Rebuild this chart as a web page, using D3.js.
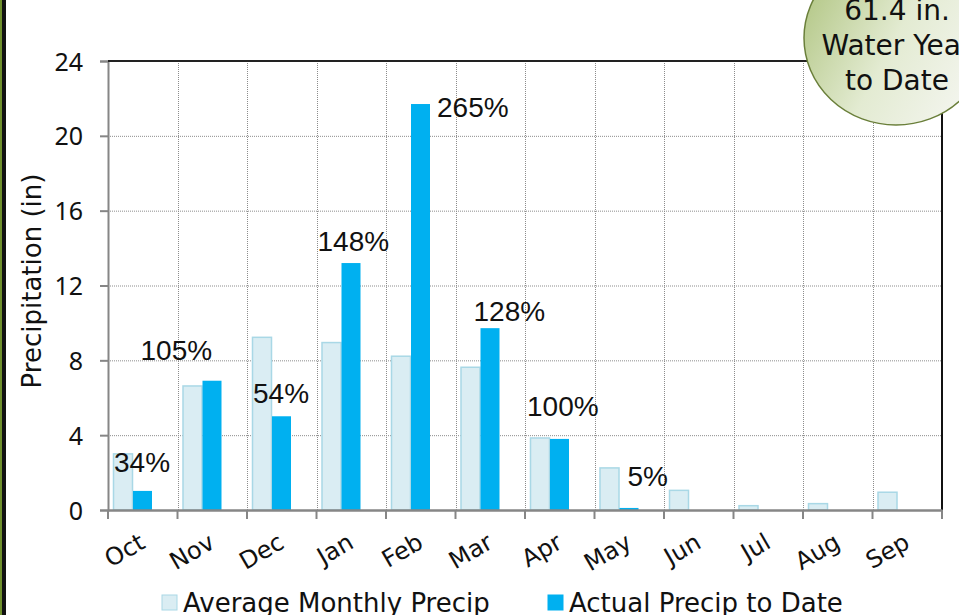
<!DOCTYPE html>
<html lang="en">
<head>
<meta charset="UTF-8">
<script src="https://d3js.org/d3.v7.min.js"></script>
<style>
  body { margin: 0; background: #fff; }
  svg { display: block; font-family: "DejaVu Sans", sans-serif; }
</style>
</head>
<body>
<div id="plot"></div>
<script>
// data
const months = ["Oct", "Nov", "Dec", "Jan", "Feb", "Mar", "Apr", "May", "Jun", "Jul", "Aug", "Sep"];
const avgPrecip = [3.0, 6.63, 9.23, 8.95, 8.22, 7.63, 3.85, 2.25, 1.05, 0.23, 0.34, 0.95];
const actualPrecip = [1.02, 6.91, 5.01, 13.2, 21.7, 9.72, 3.80, 0.11, null, null, null, null];
const pctLabels = ["34%", "105%", "54%", "148%", "265%", "128%", "100%", "5%", null, null, null, null];
const yTicks = [0, 4, 8, 12, 16, 20, 24];
const seriesNames = ["Average Monthly Precip", "Actual Precip to Date"];

// hand nudges for the percent labels (from band start / actual bar top)
const labelDx = [6, -37, 6, 1, 51, 18, 2, 33];
const labelDy = [-19, -21, -13, -12, 13, -7, -23, -22];

const width = 959, height = 615;
const m = {left: 108, right: 942, top: 61, bottom: 510};
const avgFill = "#daedf3", avgStroke = "#a9d8e6", actFill = "#00b0f0";

const svg = d3.select("#plot").append("svg")
    .attr("width", width)
    .attr("height", height);

// left frame strip
svg.append("rect").attr("x", 0).attr("y", 0).attr("width", 2).attr("height", height).attr("fill", "#6e8f2c");
svg.append("rect").attr("x", 2).attr("y", 0).attr("width", 4).attr("height", height).attr("fill", "#111");

const x = d3.scaleBand().domain(months).range([m.left, m.right]).padding(0);
const xs = d3.scaleBand().domain(["avg", "act"]).range([5, 45]).padding(0);
const y = d3.scaleLinear().domain([0, 24]).range([m.bottom, m.top]);

// grid
const grid = svg.append("g");
grid.selectAll(".hgrid")
  .data(yTicks.filter(d => d > 0 && d < 24))
  .join("line")
    .attr("x1", m.left).attr("x2", m.right)
    .attr("y1", d => y(d) + 0.5).attr("y2", d => y(d) + 0.5)
    .attr("stroke", "#8c8c8c").attr("stroke-dasharray", "1,1");
grid.selectAll(".vgrid")
  .data(months.slice(1))
  .join("line")
    .attr("x1", d => Math.round(x(d)) + 0.5).attr("x2", d => Math.round(x(d)) + 0.5)
    .attr("y1", m.top).attr("y2", m.bottom)
    .attr("stroke", "#8c8c8c").attr("stroke-dasharray", "1,1");

// y axis
svg.append("g")
    .attr("transform", `translate(${m.left},0)`)
    .call(d3.axisLeft(y).tickValues(yTicks).tickSize(8).tickPadding(17))
    .call(g => g.select(".domain").attr("stroke", "#868686").attr("stroke-width", 2))
    .call(g => g.selectAll(".tick line").attr("stroke", "#868686").attr("stroke-width", 2))
    .call(g => g.selectAll(".tick text")
        .attr("font-family", "'Noto Sans', sans-serif")
        .attr("fill", "#111").attr("font-size", 25).attr("dy", "0.36em"));

// top and right border
svg.append("line").attr("x1", m.left).attr("x2", m.right).attr("y1", m.top).attr("y2", m.top)
    .attr("stroke", "#222").attr("stroke-width", 2);
svg.append("line").attr("x1", m.right).attr("x2", m.right).attr("y1", m.top).attr("y2", m.bottom)
    .attr("stroke", "#111").attr("stroke-width", 2);

// bars
const groups = svg.append("g").selectAll("g")
  .data(months)
  .join("g")
    .attr("transform", d => `translate(${x(d)},0)`);

groups.append("rect")
    .attr("x", xs("avg") + 0.5)
    .attr("width", xs.bandwidth() - 1)
    .attr("y", (d, i) => y(avgPrecip[i]))
    .attr("height", (d, i) => y(0) - y(avgPrecip[i]))
    .attr("fill", avgFill)
    .attr("stroke", avgStroke)
    .attr("stroke-width", 1.5);

groups.filter((d, i) => actualPrecip[i] != null)
  .append("rect")
    .attr("x", xs("act"))
    .attr("width", xs.bandwidth() - 1)
    .attr("y", d => y(actualPrecip[months.indexOf(d)]))
    .attr("height", d => y(0) - y(actualPrecip[months.indexOf(d)]))
    .attr("fill", actFill);

// x axis
svg.append("g")
    .attr("transform", `translate(0,${m.bottom})`)
    .call(d3.axisBottom(x).tickSize(0).tickFormat(""))
    .call(g => g.select(".domain").attr("stroke", "#868686").attr("stroke-width", 2.5));

svg.append("g").selectAll("line")
  .data(months.concat(["end"]))
  .join("line")
    .attr("x1", (d, i) => i < 12 ? x(d) : m.right)
    .attr("x2", (d, i) => i < 12 ? x(d) : m.right)
    .attr("y1", m.bottom).attr("y2", m.bottom + 9)
    .attr("stroke", "#868686").attr("stroke-width", 2);

svg.append("g").selectAll("text")
  .data(months)
  .join("text")
    .attr("transform", d => `translate(${x(d) + x.bandwidth() / 2 + 4},${m.bottom + 37}) rotate(-30)`)
    .attr("text-anchor", "end")
    .attr("font-size", 24)
    .attr("fill", "#111")
    .text(d => d);

// y title
svg.append("text")
    .attr("transform", `translate(41,${(172 + 390) / 2}) rotate(-90)`)
    .attr("text-anchor", "middle")
    .attr("font-size", 26)
    .attr("fill", "#111")
    .text("Precipitation (in)");

// percent labels
svg.append("g").selectAll("text")
  .data(pctLabels.filter(d => d != null))
  .join("text")
    .attr("x", (d, i) => x(months[i]) + labelDx[i])
    .attr("y", (d, i) => y(actualPrecip[i]) + labelDy[i])
    .attr("font-family", "'Liberation Sans', Arial, sans-serif")
    .attr("font-size", 28)
    .attr("fill", "#111")
    .text(d => d);

// legend
const legendX = [162, 548];
const legend = svg.append("g").selectAll("g")
  .data(seriesNames)
  .join("g")
    .attr("transform", (d, i) => `translate(${legendX[i]},595)`);
legend.append("rect")
    .attr("width", 15).attr("height", 15)
    .attr("fill", (d, i) => i === 0 ? avgFill : actFill)
    .attr("stroke", (d, i) => i === 0 ? avgStroke : actFill);
legend.append("text")
    .attr("x", 21).attr("y", 17)
    .attr("font-size", 26)
    .attr("fill", "#111")
    .text(d => d);

// water year bubble
const defs = svg.append("defs");
const grad = defs.append("linearGradient").attr("id", "bub")
    .attr("x1", "0%").attr("y1", "25%").attr("x2", "100%").attr("y2", "75%");
grad.append("stop").attr("offset", "0%").attr("stop-color", "#b3c786");
grad.append("stop").attr("offset", "50%").attr("stop-color", "#e3ebd2");
grad.append("stop").attr("offset", "100%").attr("stop-color", "#f5f6f1");

svg.append("ellipse")
    .attr("cx", 896).attr("cy", 38)
    .attr("rx", 92).attr("ry", 87)
    .attr("fill", "url(#bub)")
    .attr("stroke", "#6a7f3a")
    .attr("stroke-width", 1.5);

const bubbleLines = ["61.4 in.", "Water Year", "to Date"];
svg.append("g").selectAll("text")
  .data(bubbleLines)
  .join("text")
    .attr("x", 897)
    .attr("y", (d, i) => 20 + i * 35)
    .attr("text-anchor", "middle")
    .attr("font-size", 28)
    .attr("fill", "#111")
    .text(d => d);
</script>
</body>
</html>
